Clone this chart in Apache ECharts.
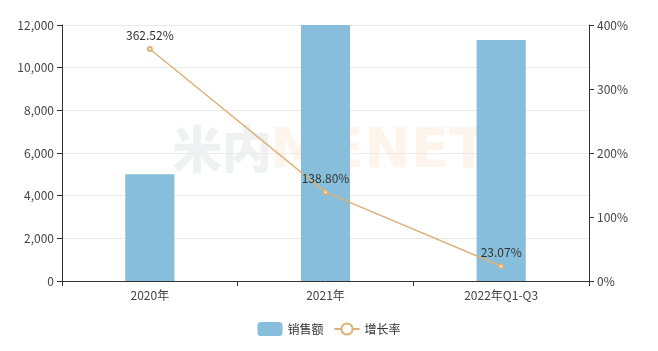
<!DOCTYPE html>
<html>
<head>
<meta charset="utf-8">
<script src="https://cdn.jsdelivr.net/npm/echarts@6/dist/echarts.min.js"></script>
<style>
  html, body { margin: 0; padding: 0; background: #fff; }
  #main { width: 658px; height: 351px; }
</style>
</head>
<body>
<div id="main"></div>
<script>
var categories = ['2020年', '2021年', '2022年Q1-Q3'];
var sales = [5000, 12000, 11300];
var growth = [362.52, 138.80, 23.07];
var leftTicks = [0, 12000, 2000];
var rightTicks = [0, 400, 100];

var ec = echarts.init(document.getElementById('main'));
var axisFont = { color: '#444', fontSize: 12, fontFamily: 'Noto Sans CJK SC' };
ec.setOption({
    animation: false,
    textStyle: { fontFamily: 'Noto Sans CJK SC' },
    grid: { left: 62, right: 69, top: 25, bottom: 70 },
    graphic: [
        {
            type: 'text', left: 172, top: 124, silent: true,
            style: { text: '米内', fontSize: 50, fontWeight: 900, fill: 'rgba(120,140,160,0.12)', fontFamily: 'Noto Sans CJK SC' }
        },
        {
            type: 'text', left: 270, top: 124, silent: true,
            style: { text: 'MENET', fontSize: 56, fontWeight: 'bold', fill: 'rgba(240,170,100,0.13)', fontFamily: 'DejaVu Sans' }
        }
    ],
    legend: {
        bottom: 10,
        left: 'center',
        itemWidth: 25,
        itemHeight: 14,
        itemGap: 10,
        textStyle: { color: '#333', fontSize: 12 },
        data: [
            { name: '销售额', icon: 'roundRect' },
            { name: '增长率' }
        ]
    },
    xAxis: {
        type: 'category',
        data: categories,
        axisLine: { lineStyle: { color: '#333' } },
        axisTick: { show: true, lineStyle: { color: '#333' } },
        axisLabel: axisFont
    },
    yAxis: [
        {
            type: 'value',
            min: leftTicks[0], max: leftTicks[1], interval: leftTicks[2],
            axisLine: { show: true, lineStyle: { color: '#333' } },
            axisTick: { show: true, lineStyle: { color: '#333' } },
            axisLabel: axisFont,
            splitLine: { lineStyle: { color: '#eaeaea' } }
        },
        {
            type: 'value',
            min: rightTicks[0], max: rightTicks[1], interval: rightTicks[2],
            axisLine: { show: true, lineStyle: { color: '#333' } },
            axisTick: { show: true, lineStyle: { color: '#333' } },
            axisLabel: { color: '#444', fontSize: 12, formatter: '{value}%' },
            splitLine: { show: false }
        }
    ],
    series: [
        {
            name: '销售额',
            type: 'bar',
            barWidth: '28%',
            itemStyle: { color: '#86bedb' },
            data: sales
        },
        {
            name: '增长率',
            type: 'line',
            yAxisIndex: 1,
            symbol: 'emptyCircle',
            symbolSize: 4,
            itemStyle: { color: '#dcb27a' },
            lineStyle: { color: '#dcb27a', width: 1.5 },
            label: {
                show: true, position: 'top', color: '#333', fontSize: 12,
                formatter: function (p) { return p.value.toFixed(2) + '%'; }
            },
            data: growth
        }
    ]
});
</script>
</body>
</html>
